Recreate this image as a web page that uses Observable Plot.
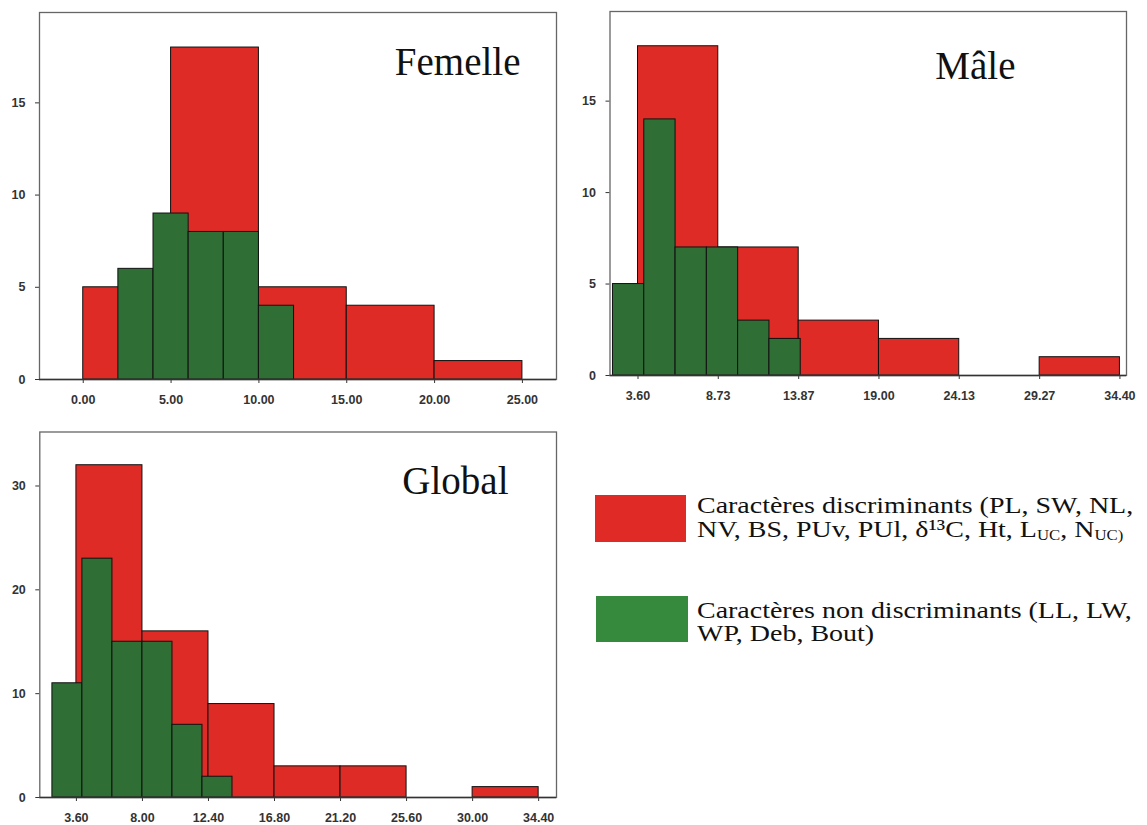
<!DOCTYPE html>
<html>
<head>
<meta charset="utf-8">
<script src="https://cdn.jsdelivr.net/npm/d3@7"></script>
<script src="https://cdn.jsdelivr.net/npm/@observablehq/plot@0.6"></script>
<style>
  html, body { margin: 0; padding: 0; background: #fff; }
  #wrap { position: relative; width: 1147px; height: 825px; overflow: hidden; background: #fff; }
  .panel { position: absolute; overflow: hidden; }
  .panel svg { max-width: none !important; }
  .swatch { position: absolute; }
  .lg { position: absolute; white-space: nowrap; font-family: "Liberation Serif", "Times New Roman", serif;
        font-size: 24px; line-height: 23.5px; color: #111; transform: scaleX(1.165); transform-origin: 0 0; }
  .lg sub { font-size: 0.6em; line-height: 0; vertical-align: -0.22em; }
</style>
</head>
<body>
<div id="wrap">
  <div class="panel" id="femelle" style="left:0px;top:0px;width:560px;height:410px;"></div>
  <div class="panel" id="male" style="left:560px;top:0px;width:587px;height:410px;"></div>
  <div class="panel" id="global" style="left:0px;top:420px;width:560px;height:405px;"></div>
  <div id="legend"></div>
</div>
<script>
// ---------------- data ----------------
const seriesNames = ["Caractères discriminants", "Caractères non discriminants"];

const femelleRedEdges = [0, 5, 10, 15, 20, 25];
const femelleRedCounts = [5, 18, 5, 4, 1];
const femelleGreenEdges = [2, 4, 6, 8, 10, 12];
const femelleGreenCounts = [6, 9, 8, 8, 4];
const femelleXTicks = [0, 5, 10, 15, 20, 25];
const femelleYTicks = [0, 5, 10, 15];

const maleRedEdges = [3.6, 8.73, 13.87, 19.0, 24.13, 29.27, 34.4];
const maleRedCounts = [18, 7, 3, 2, 0, 1];
const maleGreenEdges = [2, 4, 6, 8, 10, 12, 14];
const maleGreenCounts = [5, 14, 7, 7, 3, 2];
const maleXTicks = [3.6, 8.73, 13.87, 19.0, 24.13, 29.27, 34.4];
const maleYTicks = [0, 5, 10, 15];

const globalRedEdges = [3.6, 8.0, 12.4, 16.8, 21.2, 25.6, 30.0, 34.4];
const globalRedCounts = [32, 16, 9, 3, 3, 0, 1];
const globalGreenEdges = [2, 4, 6, 8, 10, 12, 14];
const globalGreenCounts = [11, 23, 15, 15, 7, 2];
const globalXTicks = [3.6, 8.0, 12.4, 16.8, 21.2, 25.6, 30.0, 34.4];
const globalYTicks = [0, 10, 20, 30];

const panelTitles = ["Femelle", "Mâle", "Global"];

// ---------------- styling ----------------
const RED = "#de2b26";
const GREEN = "#2f6e35";
const LEG_RED = "#e02a25";
const LEG_GREEN = "#368a3e";

function bins(edges, counts, series) {
  const out = [];
  for (let i = 0; i < counts.length; i++) {
    if (counts[i] > 0) out.push({x1: edges[i], x2: edges[i + 1], count: counts[i], series});
  }
  return out;
}

function panel(opts) {
  const red = bins(opts.redEdges, opts.redCounts, seriesNames[0]);
  const green = bins(opts.greenEdges, opts.greenCounts, seriesNames[1]);
  return Plot.plot({
    width: opts.width,
    height: opts.height,
    marginLeft: opts.ml, marginRight: opts.mr, marginTop: opts.mt, marginBottom: opts.mb,
    style: {fontFamily: "'Liberation Sans', Arial, sans-serif", fontSize: "12.5px", fontWeight: "bold", color: "#333", background: "transparent", overflow: "visible", maxWidth: "none"},
    x: {domain: opts.xDomain, ticks: opts.xTicks, tickFormat: d3.format(".2f"), tickSize: 4, tickPadding: 12, label: null},
    y: {domain: opts.yDomain, ticks: opts.yTicks, tickFormat: d3.format("d"), tickSize: 4, tickPadding: 10, label: null},
    marks: [
      Plot.rect(red, {x1: "x1", x2: "x2", y1: () => 0, y2: "count", fill: RED, stroke: "#111", strokeWidth: 1}),
      Plot.rect(green, {x1: "x1", x2: "x2", y1: () => 0, y2: "count", fill: GREEN, stroke: "#111", strokeWidth: 1}),
      Plot.frame({stroke: "#666", strokeWidth: 1.3}),
      Plot.ruleY([0], {stroke: "#333", strokeWidth: 1.3}),
      Plot.text([opts.title], {frameAnchor: "top-right", textAnchor: "end", lineAnchor: "bottom", dx: opts.tdx, dy: opts.tdy,
        fontFamily: "'Liberation Serif', 'Times New Roman', serif", fontSize: 39, fontWeight: "normal", fill: "#111"})
    ]
  });
}

document.getElementById("femelle").appendChild(panel({
  width: 560, height: 410, ml: 39, mr: 4, mt: 12, mb: 31,
  xDomain: [-2.49, 26.94], yDomain: [0, 19.9], xTicks: femelleXTicks, yTicks: femelleYTicks,
  redEdges: femelleRedEdges, redCounts: femelleRedCounts, greenEdges: femelleGreenEdges, greenCounts: femelleGreenCounts,
  title: panelTitles[0], tdx: -36, tdy: 62
}));

document.getElementById("male").appendChild(panel({
  width: 587, height: 410, ml: 49.5, mr: 21, mt: 11, mb: 35,
  xDomain: [1.81, 34.82], yDomain: [0, 19.9], xTicks: maleXTicks, yTicks: maleYTicks,
  redEdges: maleRedEdges, redCounts: maleRedCounts, greenEdges: maleGreenEdges, greenCounts: maleGreenCounts,
  title: panelTitles[1], tdx: -111, tdy: 67
}));

document.getElementById("global").appendChild(panel({
  width: 560, height: 405, ml: 39.3, mr: 4, mt: 11.5, mb: 28,
  xDomain: [1.16, 35.59], yDomain: [0, 35.2], xTicks: globalXTicks, yTicks: globalYTicks,
  redEdges: globalRedEdges, redCounts: globalRedCounts, greenEdges: globalGreenEdges, greenCounts: globalGreenCounts,
  title: panelTitles[2], tdx: -48, tdy: 61.5
}));

// ---------------- legend ----------------
const legend = document.getElementById("legend");
legend.innerHTML = `
  <div class="swatch" style="left:595px;top:495px;width:91px;height:47px;background:${LEG_RED};"></div>
  <div class="swatch" style="left:596px;top:596px;width:92px;height:46px;background:${LEG_GREEN};"></div>
  <div class="lg" style="left:697px;top:494.2px;">${seriesNames[0]} (PL, SW, NL,<br>NV, BS, PUv, PUl, δ¹³C, Ht, L<sub>UC</sub>, N<sub>UC)</sub></div>
  <div class="lg" style="left:697px;top:598.5px;">${seriesNames[1]} (LL, LW,<br>WP, Deb, Bout)</div>
`;
</script>
</body>
</html>
